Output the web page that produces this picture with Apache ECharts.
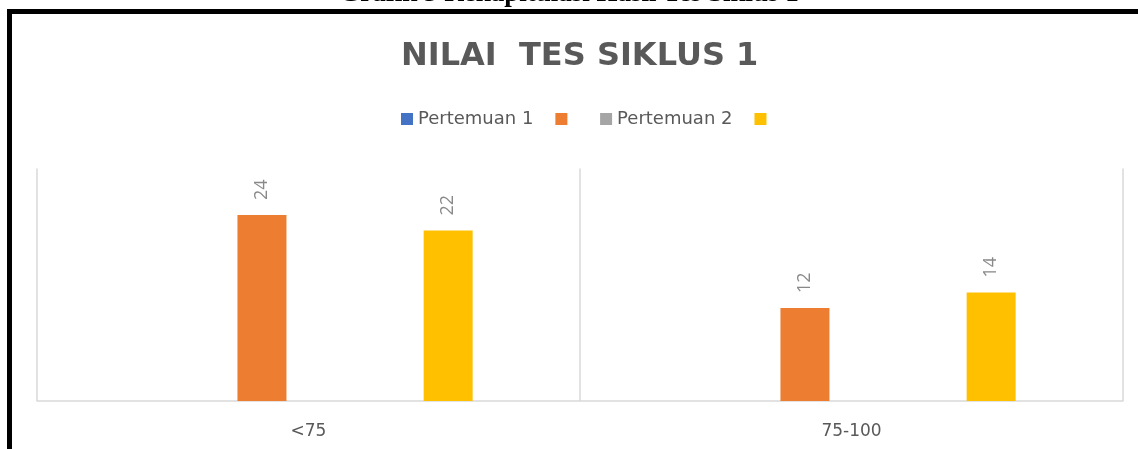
<!DOCTYPE html>
<html>
<head>
<meta charset="utf-8">
<script src="https://cdn.jsdelivr.net/npm/echarts@6/dist/echarts.min.js"></script>
<style>
  html, body { margin: 0; padding: 0; background: #fff; }
  #chart { width: 1138px; height: 449px; }
</style>
</head>
<body>
<div id="chart"></div>
<script>
// data
const categories = ['<75', '75-100']
const pertemuan1 = [null, null]
const seriesOrange = [24, 12]
const pertemuan2 = [null, null]
const seriesYellow = [22, 14]

const chart = echarts.init(document.getElementById('chart'))

const labelStyle = {
  show: true,
  position: 'top',
  rotate: 90,
  align: 'left',
  verticalAlign: 'middle',
  distance: 15,
  color: '#898989',
  fontFamily: 'Open Sans',
  fontSize: 18
}

const makeBar = (name, data, color) => ({
  name: name,
  type: 'bar',
  data: data,
  barWidth: 49,
  barGap: '90%',
  itemStyle: { color: color },
  label: labelStyle
})

const option = {
  animation: false,
  backgroundColor: '#fff',
  graphic: [
    {
      type: 'text',
      left: 'center',
      top: -19,
      style: {
        text: 'Grafik 5 Rekapitulasi Hasil Tes Siklus 1',
        font: 'bold 27px "Liberation Serif"',
        fill: '#000'
      }
    },
    {
      type: 'rect',
      shape: { x: 9.5, y: 11.5, width: 1300, height: 600 },
      style: { fill: 'none', stroke: '#000', lineWidth: 5 }
    }
  ],
  title: {
    text: 'NILAI  TES SIKLUS 1',
    left: 396,
    top: 36,
    textStyle: { fontFamily: 'DejaVu Sans', fontWeight: 'bold', fontSize: 32, color: '#595959' }
  },
  legend: {
    left: 401,
    top: 110,
    padding: 0,
    itemWidth: 12,
    itemHeight: 12,
    itemGap: 22,
    icon: 'rect',
    textStyle: { fontFamily: 'DejaVu Sans', fontSize: 18, color: '#595959' },
    data: ['Pertemuan 1', ' ', 'Pertemuan 2', '  ']
  },
  grid: { left: 37, right: 15, top: 168.5, bottom: 48 },
  xAxis: {
    type: 'category',
    data: categories,
    axisLine: { lineStyle: { color: '#d9d9d9', width: 1.5 } },
    axisTick: { show: false },
    splitLine: { show: true, lineStyle: { color: '#d9d9d9', width: 1.5 } },
    axisLabel: { color: '#595959', fontFamily: 'DejaVu Sans', fontSize: 17, margin: 22 }
  },
  yAxis: {
    type: 'value',
    min: 0,
    max: 30,
    show: false
  },
  series: [
    makeBar('Pertemuan 1', pertemuan1, '#4472C4'),
    makeBar(' ', seriesOrange, '#ED7D31'),
    makeBar('Pertemuan 2', pertemuan2, '#A5A5A5'),
    makeBar('  ', seriesYellow, '#FFC000')
  ]
}

chart.setOption(option)
window.addEventListener('resize', () => chart.resize())
</script>
</body>
</html>
